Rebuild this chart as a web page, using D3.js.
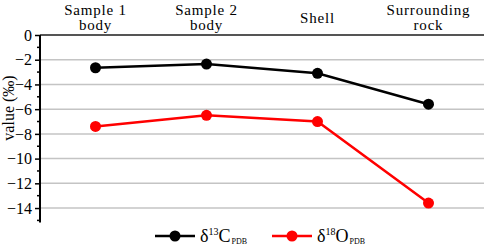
<!DOCTYPE html>
<html><head><meta charset="utf-8">
<script src="https://cdn.jsdelivr.net/npm/d3@7"></script>
<style>body{margin:0;background:#fff}svg{display:block}svg text{font-family:'Liberation Serif','Times New Roman','DejaVu Serif',serif}</style>
</head><body>
<svg id="c" width="484" height="247"></svg>
<script>
const categories = [["Sample 1","body"],["Sample 2","body"],["Shell"],["Surrounding","rock"]];
const carbon = [-2.65, -2.35, -3.1, -5.6];
const oxygen = [-7.4, -6.5, -7.0, -13.6];
const yTicks = [0,-2,-4,-6,-8,-10,-12,-14];

const svg = d3.select("#c");
const x = d3.scaleBand().domain(d3.range(categories.length)).range([40,484]);
const y = d3.scaleLinear().domain([0,-15]).range([35,220.4]);

// gridlines
svg.append("g").selectAll("line").data(yTicks.filter(d=>d!==0)).join("line")
  .attr("x1",40).attr("x2",484).attr("y1",d=>y(d)).attr("y2",d=>y(d))
  .attr("stroke","#c4c4c4").attr("stroke-width",1.5);
// top line
svg.append("line").attr("x1",40).attr("x2",484).attr("y1",y(0)).attr("y2",y(0))
  .attr("stroke","#555").attr("stroke-width",2);

// y axis
const ax = svg.append("g").attr("transform","translate(40,0)")
  .call(d3.axisLeft(y).tickValues(yTicks).tickSize(5).tickPadding(3).tickFormat(d3.format("d")));
ax.attr("font-family",null);
ax.select(".domain").attr("stroke","#000").attr("stroke-width",2).attr("d","M0,"+y(0)+"V"+(y(-15)+2));
ax.selectAll(".tick line").attr("stroke-width",1.5);
ax.selectAll("text").attr("font-size",16).attr("fill","#000");
ax.append("g").selectAll("line").data(d3.range(-1,-16,-2)).join("line")
  .attr("x1",-3).attr("x2",0).attr("y1",d=>y(d)).attr("y2",d=>y(d))
  .attr("stroke","#000").attr("stroke-width",1.5);

svg.append("text").attr("transform","translate(14,108) rotate(-90)")
  .attr("text-anchor","middle").attr("font-size",16).text("value (‰)");

// category labels
categories.forEach((lines,i)=>{
  const cx = x(i)+x.bandwidth()/2;
  const t = svg.append("text").attr("text-anchor","middle").attr("font-size",15).attr("letter-spacing",0.8);
  if(lines.length===2){
    t.append("tspan").attr("x",cx).attr("y",15).text(lines[0]);
    t.append("tspan").attr("x",cx).attr("y",30).text(lines[1]);
  } else {
    t.append("tspan").attr("x",cx).attr("y",23).text(lines[0]);
  }
});

const line = d3.line().x((d,i)=>x(i)+x.bandwidth()/2).y(d=>y(d));
[[carbon,"#000"],[oxygen,"#ff0000"]].forEach(([data,col])=>{
  svg.append("path").attr("d",line(data)).attr("fill","none").attr("stroke",col).attr("stroke-width",2.5);
  svg.append("g").selectAll("circle").data(data).join("circle")
    .attr("cx",(d,i)=>x(i)+x.bandwidth()/2).attr("cy",d=>y(d)).attr("r",5.5).attr("fill",col);
});

// legend
const legend = [["13","C","#000",155],["18","O","#ff0000",272]];
legend.forEach(([sup,el,col,lx])=>{
  const ly = 236;
  svg.append("line").attr("x1",lx).attr("x2",lx+40).attr("y1",ly).attr("y2",ly).attr("stroke",col).attr("stroke-width",2.5);
  svg.append("circle").attr("cx",lx+20).attr("cy",ly).attr("r",5.5).attr("fill",col);
  const t = svg.append("text").attr("x",lx+45).attr("y",ly+6).attr("font-size",18);
  t.append("tspan").text("δ");
  t.append("tspan").attr("font-size",10).attr("dy",-7).text(sup);
  t.append("tspan").attr("dy",7).text(el);
  t.append("tspan").attr("font-size",8).attr("dy",2).attr("dx",1).text("PDB");
});
</script>
</body></html>
